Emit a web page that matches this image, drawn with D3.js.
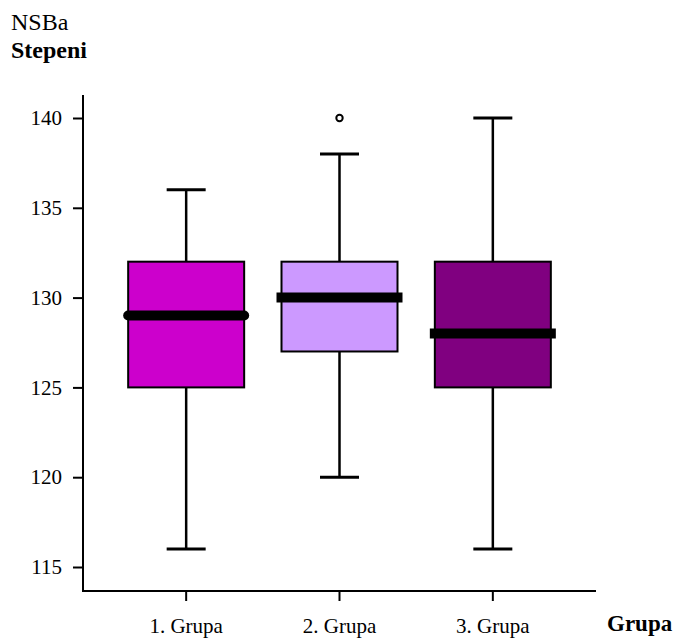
<!DOCTYPE html>
<html><head><meta charset="utf-8">
<script src="https://cdn.jsdelivr.net/npm/d3@7"></script>
<style>body{margin:0;background:#fff}svg{display:block}text{font-family:"Liberation Serif","Times New Roman",serif}</style>
</head><body><svg id="c" width="676" height="638"></svg>
<script>
const categories = ["1. Grupa", "2. Grupa", "3. Grupa"];
const mins = [116, 120, 116];
const q1s = [125, 127, 125];
const medians = [129, 130, 128];
const q3s = [132, 132, 132];
const maxs = [136, 138, 140];
const outliers = [[], [140], []];
const colors = ["#CC00CC", "#CC99FF", "#800080"];
const medianCaps = ["round", "square", "square"];
const yTicks = [115, 120, 125, 130, 135, 140];

const svg = d3.select("#c");
const y = d3.scaleLinear().domain([115, 140]).range([567, 118]);
const x = d3.scaleBand().domain(categories).range([109.5, 569.5]);
const axisX = 83, axisY = 591;

// y axis
const ya = svg.append("g").attr("transform", `translate(${axisX},0)`)
  .call(d3.axisLeft(y).tickValues(yTicks).tickSize(10).tickPadding(11).tickFormat(d3.format("d")));
ya.select(".domain").remove();
ya.selectAll(".tick line").attr("stroke", "#000").attr("stroke-width", 2);
ya.selectAll(".tick text").attr("font-size", 21).attr("fill", "#000");
svg.append("line").attr("x1", axisX).attr("x2", axisX).attr("y1", 95).attr("y2", axisY + 1)
  .attr("stroke", "#000").attr("stroke-width", 2);

// x axis
const xa = svg.append("g").attr("transform", `translate(0,${axisY})`)
  .call(d3.axisBottom(x).tickSize(10).tickPadding(17));
xa.select(".domain").remove();
xa.selectAll(".tick line").attr("stroke", "#000").attr("stroke-width", 2);
xa.selectAll(".tick text").attr("font-size", 21).attr("fill", "#000");
svg.append("line").attr("x1", axisX - 1).attr("x2", 596).attr("y1", axisY).attr("y2", axisY)
  .attr("stroke", "#000").attr("stroke-width", 2);

const boxW = 116, capW = 39;
const g = svg.selectAll("g.box").data(categories).join("g").attr("class", "box");
g.each(function(c, i) {
  const s = d3.select(this);
  const cx = x(c) + x.bandwidth() / 2;
  // whiskers
  s.append("line").attr("x1", cx).attr("x2", cx).attr("y1", y(maxs[i])).attr("y2", y(q3s[i]))
    .attr("stroke", "#000").attr("stroke-width", 2.5);
  s.append("line").attr("x1", cx).attr("x2", cx).attr("y1", y(q1s[i])).attr("y2", y(mins[i]))
    .attr("stroke", "#000").attr("stroke-width", 2.5);
  s.append("line").attr("x1", cx - capW / 2).attr("x2", cx + capW / 2).attr("y1", y(maxs[i])).attr("y2", y(maxs[i]))
    .attr("stroke", "#000").attr("stroke-width", 3);
  s.append("line").attr("x1", cx - capW / 2).attr("x2", cx + capW / 2).attr("y1", y(mins[i])).attr("y2", y(mins[i]))
    .attr("stroke", "#000").attr("stroke-width", 3);
  // box
  s.append("rect").attr("x", cx - boxW / 2).attr("y", y(q3s[i])).attr("width", boxW)
    .attr("height", y(q1s[i]) - y(q3s[i])).attr("fill", colors[i]).attr("stroke", "#000").attr("stroke-width", 2);
  // median
  s.append("line").attr("x1", cx - boxW / 2).attr("x2", cx + boxW / 2).attr("y1", y(medians[i])).attr("y2", y(medians[i]))
    .attr("stroke", "#000").attr("stroke-width", 10).attr("stroke-linecap", medianCaps[i]);
  // outliers
  outliers[i].forEach(o => {
    s.append("circle").attr("cx", cx).attr("cy", y(o)).attr("r", 3.2)
      .attr("fill", "#fff").attr("stroke", "#000").attr("stroke-width", 2);
  });
});

svg.append("text").attr("x", 11).attr("y", 30).attr("font-size", 24).text("NSBa");
svg.append("text").attr("x", 11).attr("y", 58).attr("font-size", 24).attr("font-weight", "bold").text("Stepeni");
svg.append("text").attr("x", 607).attr("y", 631).attr("font-size", 23).attr("font-weight", "bold").text("Grupa");
</script></body></html>
